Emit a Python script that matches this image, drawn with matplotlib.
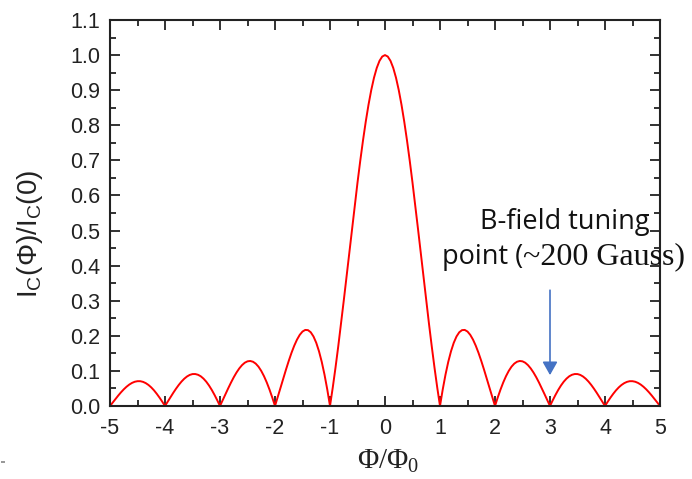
import numpy as np
import matplotlib
matplotlib.use("Agg")
import matplotlib.pyplot as plt
from matplotlib.ticker import MultipleLocator

# Normalised critical current of the junction versus flux (positive half; curve is symmetric)
flux_pos = [0.0, 0.05, 0.1, 0.15, 0.2, 0.25, 0.3, 0.35, 0.4, 0.45, 0.5, 0.55, 0.6, 0.65,
            0.7, 0.75, 0.8, 0.85, 0.9, 0.95, 1.0,
            1.05, 1.1, 1.15, 1.2, 1.25, 1.3, 1.35, 1.4, 1.45, 1.5,
            1.55, 1.6, 1.65, 1.7, 1.75, 1.8, 1.85, 1.9, 1.95, 2.0,
            2.05, 2.1, 2.15, 2.2, 2.25, 2.3, 2.35, 2.4, 2.45, 2.5,
            2.55, 2.6, 2.65, 2.7, 2.75, 2.8, 2.85, 2.9, 2.95, 3.0,
            3.05, 3.1, 3.15, 3.2, 3.25, 3.3, 3.35, 3.4, 3.45, 3.5,
            3.55, 3.6, 3.65, 3.7, 3.75, 3.8, 3.85, 3.9, 3.95, 4.0,
            4.05, 4.1, 4.15, 4.2, 4.25, 4.3, 4.35, 4.4, 4.45, 4.5,
            4.55, 4.6, 4.65, 4.7, 4.75, 4.8, 4.85, 4.9, 4.95, 5.0]
ic_pos = [1.0, 0.9959, 0.9836, 0.9634, 0.9355, 0.9003, 0.8584, 0.8103, 0.7568, 0.6987,
          0.6366, 0.5716, 0.5046, 0.4363, 0.3679, 0.3001, 0.2339, 0.1700, 0.1093, 0.0524, 0.0,
          0.0474, 0.0894, 0.1257, 0.1559, 0.1801, 0.1981, 0.2101, 0.2162, 0.2168, 0.2122,
          0.2028, 0.1892, 0.1719, 0.1515, 0.1286, 0.1039, 0.0781, 0.0518, 0.0255, 0.0,
          0.0243, 0.0468, 0.0672, 0.0850, 0.1000, 0.1120, 0.1207, 0.1261, 0.1283, 0.1273,
          0.1233, 0.1164, 0.1070, 0.0954, 0.0819, 0.0668, 0.0507, 0.0339, 0.0169, 0.0,
          0.0163, 0.0317, 0.0459, 0.0585, 0.0693, 0.0780, 0.0847, 0.0890, 0.0911, 0.0910,
          0.0886, 0.0841, 0.0777, 0.0696, 0.0600, 0.0492, 0.0375, 0.0252, 0.0126, 0.0,
          0.0123, 0.0240, 0.0348, 0.0446, 0.0530, 0.0599, 0.0652, 0.0688, 0.0707, 0.0707,
          0.0691, 0.0658, 0.0610, 0.0548, 0.0474, 0.0390, 0.0298, 0.0201, 0.0101, 0.0]

x_ticks = [-5, -4, -3, -2, -1, 0, 1, 2, 3, 4, 5]
y_ticks = [0.0, 0.1, 0.2, 0.3, 0.4, 0.5, 0.6, 0.7, 0.8, 0.9, 1.0, 1.1]
tuning_point = 3.0

flux = np.concatenate([-np.array(flux_pos[:0:-1]), np.array(flux_pos)])
ic = np.concatenate([np.array(ic_pos[:0:-1]), np.array(ic_pos)])

W, H = 692, 479
fig = plt.figure(figsize=(W / 100, H / 100), dpi=100)
plt.rcParams['font.family'] = ['Liberation Sans', 'DejaVu Sans']
ax = fig.add_axes([110 / W, (H - 406) / H, 550 / W, 386 / H])

ax.plot(flux, ic, color='#ff0000', lw=1.4)
ax.set_xlim(-5, 5)
ax.set_ylim(0, 1.1)
ax.set_xticks(x_ticks)
ax.set_xticklabels([str(t) for t in x_ticks])
ax.set_yticks(y_ticks)
ax.set_yticklabels([f"{t:.1f}" for t in y_ticks])
ax.xaxis.set_minor_locator(MultipleLocator(0.5))
ax.yaxis.set_minor_locator(MultipleLocator(0.05))

ink = '#222222'
for s in ax.spines.values():
    s.set_linewidth(1.5)
    s.set_color(ink)
ax.tick_params(which='both', direction='in', top=True, right=True, width=1.3, color=ink)
ax.tick_params(which='major', length=7, labelsize=15.5, labelcolor=ink)
ax.tick_params(which='minor', length=4)
ax.tick_params(axis='y', which='major', pad=7)
ax.tick_params(axis='x', which='major', pad=9)

fig.text(30 / W, 1 - 234 / H, r'I$_\mathregular{C}$(Φ)/I$_\mathregular{C}$(0)', fontsize=20,
         color=ink, rotation=90, ha='center', va='center')
fig.text(388 / W, 1 - 468 / H, r'Φ/Φ$_\mathregular{0}$', fontsize=21, color=ink,
         family=['Liberation Serif', 'DejaVu Serif'], ha='center', va='baseline')

# Marker for the chosen operating point
ax.annotate('', xy=(tuning_point, 0.088), xytext=(tuning_point, 0.33),
            arrowprops=dict(arrowstyle='-|>,head_length=0.8,head_width=0.45',
                            color='#4472c4', lw=1.2, shrinkA=0, shrinkB=0))

fig.text(650 / W, 1 - 229 / H, 'B-field tuning', fontsize=19.5, color='#111111',
         family=['Open Sans', 'DejaVu Sans'], ha='right', va='baseline')
fig.text(523 / W, 1 - 264 / H, 'point (', fontsize=19.5, color='#111111',
         family=['Open Sans', 'DejaVu Sans'], ha='right', va='baseline')
fig.text(523 / W, 1 - 264 / H, '~200 Gauss)', fontsize=23, color='#111111',
         family=['Liberation Serif', 'DejaVu Serif'], ha='left', va='baseline')

fig.patches.append(plt.Rectangle((1 / W, 1 - 463 / H), 4 / W, 2 / H,
                                 transform=fig.transFigure, color='#999999', lw=0))

fig.savefig('out.png', dpi=100)
